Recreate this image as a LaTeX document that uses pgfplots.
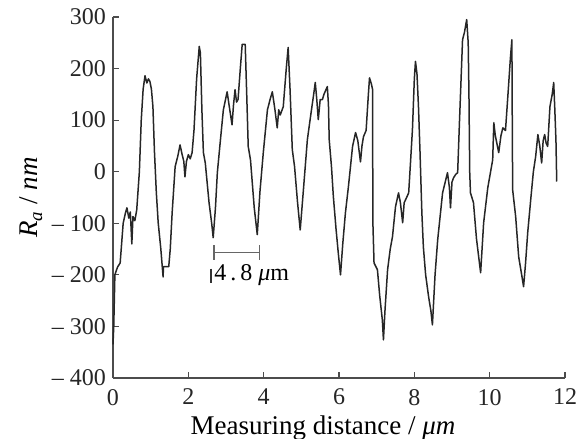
\documentclass[border=0pt]{standalone}
\usepackage{pgfplots}
\pgfplotsset{compat=1.18}
\usepackage{fontspec}
\setmainfont{Liberation Serif}

\begin{document}
\begin{tikzpicture}
    \begin{axis}[
            scale only axis,
            width=226pt,
            height=180.5pt,
            xmin=0, xmax=12,
            ymin=-400, ymax=300,
            axis x line=bottom,
            axis y line=left,
            axis line style={-, draw=black!70, line width=0.8pt},
            tick style={draw=black!70, line width=0.6pt},
            tick align=inside,
            major tick length=3pt,
            xtick={0,2,4,6,8,10,12},
            ytick={-400,-300,-200,-100,0,100,200,300},
            yticklabels={{– 400},{– 300},{– 200},{– 100},0,100,200,300},
            /pgf/number format/assume math mode=true,
            ticklabel style={font=\fontsize{12}{12}\selectfont, text=black!85},
            xticklabel style={yshift=-2pt},
            xlabel={Measuring distance / \textit{μm}},
            ylabel={\textit{R}\textsubscript{\textit{a}} / \textit{nm}},
            label style={font=\fontsize{13.5}{13.5}\selectfont},
            xlabel style={yshift=1.5pt, xshift=-8pt},
            ylabel style={yshift=-2pt},
            clip=false
        ]
        \addplot[color=black!85, line width=0.75pt, line join=round] coordinates {
            (0,-335) (0.02,-300) (0.05,-200) (0.12,-185) (0.19,-177)
            (0.27,-100) (0.33,-80) (0.37,-70) (0.42,-90) (0.46,-78)
            (0.5,-140) (0.53,-87) (0.58,-95) (0.63,-74) (0.7,0)
            (0.75,100) (0.8,160) (0.85,186) (0.9,172) (0.94,180)
            (0.98,175) (1.02,160) (1.06,126) (1.1,40) (1.15,-40)
            (1.2,-99) (1.27,-150) (1.33,-204) (1.34,-184) (1.48,-184)
            (1.52,-150) (1.57,-80) (1.65,10) (1.72,30) (1.78,52)
            (1.83,35) (1.88,20) (1.91,-10) (1.95,20) (2.0,33)
            (2.05,25) (2.1,37) (2.15,80) (2.22,180) (2.29,243)
            (2.32,230) (2.36,120) (2.4,37) (2.45,17) (2.55,-60)
            (2.62,-100) (2.66,-128) (2.72,-70) (2.77,-2) (2.85,60)
            (2.93,120) (3.03,155) (3.08,130) (3.16,91) (3.2,130)
            (3.24,159) (3.28,135) (3.32,140) (3.38,200) (3.43,247)
            (3.51,247) (3.55,150) (3.59,49) (3.65,23) (3.75,-70)
            (3.83,-122) (3.9,-40) (3.99,37) (4.1,120) (4.17,140)
            (4.23,155) (4.3,120) (4.36,85) (4.4,120) (4.44,110)
            (4.52,126) (4.6,200) (4.65,241) (4.7,160) (4.76,43)
            (4.82,10) (4.9,-60) (4.97,-113) (5.05,-40) (5.16,62)
            (5.25,110) (5.32,146) (5.37,173) (5.41,140) (5.45,101)
            (5.5,140) (5.56,140) (5.6,150) (5.69,165) (5.72,130)
            (5.74,62) (5.8,10) (5.85,-48) (5.92,-110) (5.98,-157)
            (6.04,-200) (6.1,-140) (6.17,-80) (6.25,-29) (6.36,49)
            (6.44,76) (6.5,60) (6.57,19) (6.61,50) (6.65,68)
            (6.72,80) (6.78,150) (6.81,182) (6.86,170) (6.89,160)
            (6.9,-100) (6.93,-177) (7.02,-190) (7.08,-240) (7.15,-287)
            (7.18,-326) (7.22,-270) (7.29,-190) (7.36,-150) (7.42,-126)
            (7.5,-68) (7.58,-41) (7.63,-60) (7.69,-99) (7.73,-60)
            (7.77,-54) (7.85,-41) (7.9,20) (7.95,82) (8.0,180)
            (8.03,214) (8.07,190) (8.11,126) (8.15,40) (8.2,-80)
            (8.24,-146) (8.3,-200) (8.38,-243) (8.44,-270) (8.48,-297)
            (8.55,-200) (8.62,-132) (8.68,-90) (8.75,-41) (8.82,-20)
            (8.88,-2) (8.93,-30) (8.96,-70) (9.0,-20) (9.04,-12)
            (9.1,-5) (9.15,-2) (9.2,100) (9.28,256) (9.33,270)
            (9.39,295) (9.43,250) (9.45,150) (9.47,0) (9.49,-41)
            (9.57,-60) (9.65,-130) (9.76,-196) (9.84,-99) (9.95,-31)
            (10.08,23) (10.11,95) (10.15,70) (10.24,37) (10.3,70)
            (10.35,85) (10.42,80) (10.5,165) (10.55,220) (10.59,256)
            (10.6,100) (10.61,-35) (10.69,-87) (10.77,-165) (10.85,-200)
            (10.9,-223) (10.95,-180) (11.01,-118) (11.09,-54) (11.16,0)
            (11.22,29) (11.28,72) (11.33,50) (11.38,17) (11.42,60)
            (11.46,72) (11.5,55) (11.54,49) (11.6,126) (11.66,150)
            (11.7,173) (11.73,120) (11.76,60) (11.78,-19)
        };
        % scale bar annotation
        \draw[black!60, line width=0.8pt, |-|] (axis cs:2.66,-157) -- (axis cs:3.91,-157);
        \draw[black!80, line width=0.9pt] (axis cs:2.6,-188) -- (axis cs:2.6,-215);
        \node[font=\fontsize{12}{12}\selectfont, anchor=west, inner sep=0pt]
            at (axis cs:2.68,-200) {4\,.\,8 \textit{μ}m};
    \end{axis}
    \pgfresetboundingbox
    \path[use as bounding box] ([xshift=-56.5pt,yshift=-30.5pt]current axis.south west)
        rectangle ([xshift=6pt,yshift=8.5pt]current axis.north east);
\end{tikzpicture}
\end{document}
